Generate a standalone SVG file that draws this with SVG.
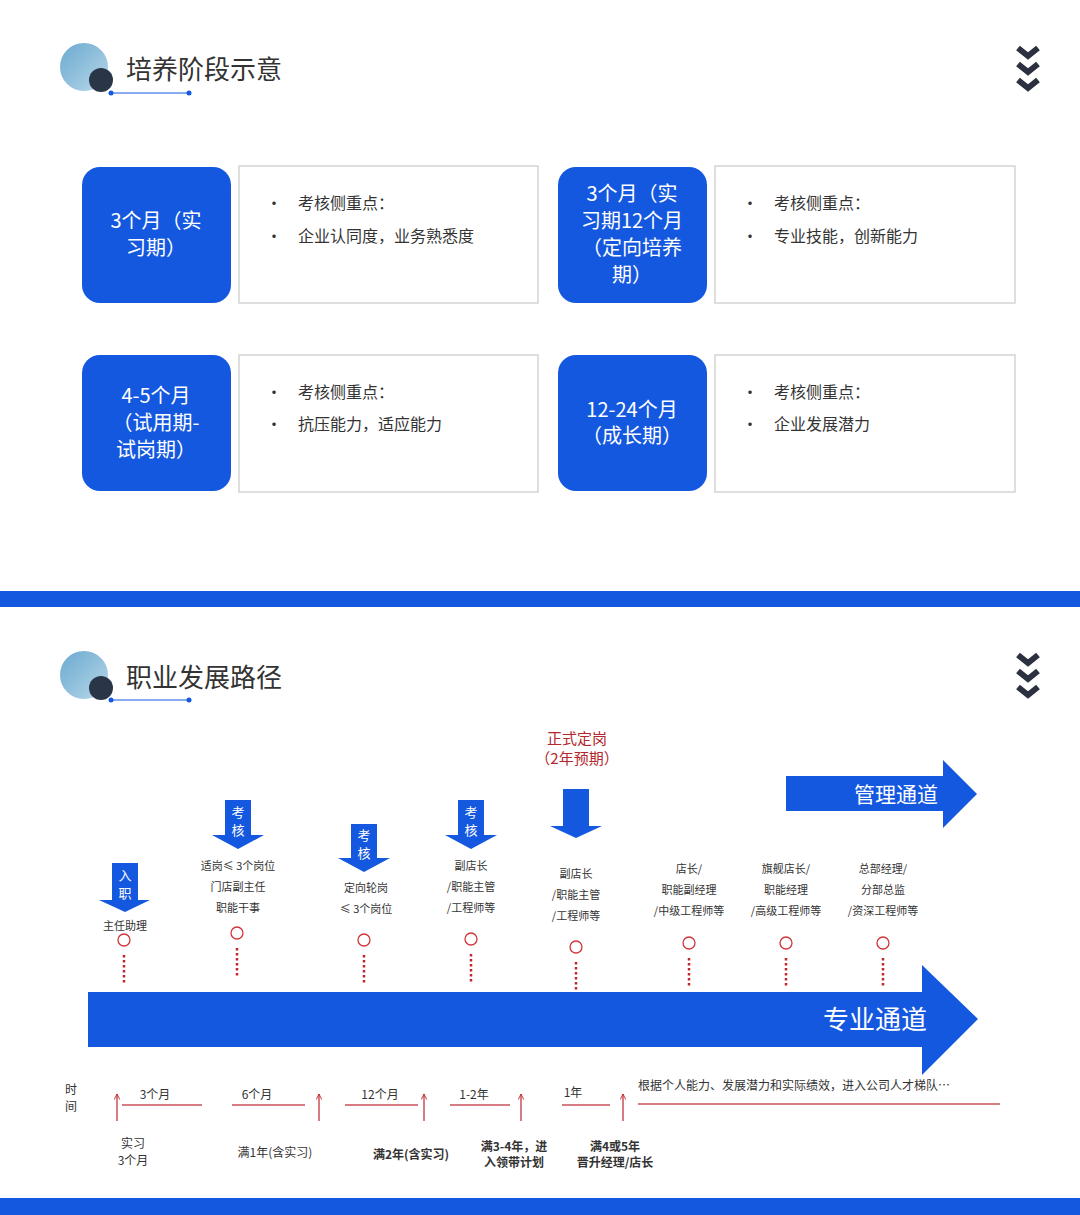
<svg xmlns="http://www.w3.org/2000/svg" width="1080" height="1215" viewBox="0 0 1080 1215">
<defs>
<style>
text{font-family:"Noto Sans CJK SC","Liberation Serif",serif}
.h{font-size:26px;fill:#333}
.bt{font-size:20px;fill:#fff;text-anchor:middle}
.ct{font-size:16px;fill:#333}
.bl{fill:#1558e0}
.wb{fill:#fff;stroke:#d4d4d4;stroke-width:1.5}
.s{font-size:11px;fill:#333;text-anchor:middle}
.w{font-size:13px;fill:#fff;text-anchor:middle}
.dot{stroke:#c0282d;stroke-width:2.5;stroke-dasharray:2.5 2.5}
.cir{fill:none;stroke:#d0353a;stroke-width:1.3}
.tl{stroke:#c85058;stroke-width:1.5}
.t{font-size:12px;fill:#333;text-anchor:middle}
</style>
<linearGradient id="g" x1="0" y1="0" x2="1" y2="1"><stop offset="0" stop-color="#6aa9cf"/><stop offset="1" stop-color="#b8d8ea"/></linearGradient>
<marker id="ua" viewBox="0 0 10 10" refX="9" refY="5" markerWidth="7" markerHeight="7" markerUnits="userSpaceOnUse" orient="auto"><path d="M1,1 L9,5 L1,9" fill="none" stroke="#c0282d" stroke-width="1.3"/></marker>
<g id="chev"><path d="M0,0 L10,8 L20,0 M0,16 L10,24 L20,16 M0,32 L10,40 L20,32" fill="none" stroke="#2b3140" stroke-width="6"/></g>
</defs>
<rect width="1080" height="1215" fill="#fff"/>
<g id="header1">
<circle cx="84" cy="67" r="24" fill="url(#g)"/><circle cx="101" cy="80" r="12" fill="#2b3548"/>
<line x1="111" y1="93" x2="189" y2="93" stroke="#1558e0"/><circle cx="111" cy="93" r="2.5" fill="#1558e0"/><circle cx="189" cy="93" r="2.5" fill="#1558e0"/>
<text x="126" y="79" class="h">培养阶段示意</text>
<use href="#chev" x="1018" y="48"/>
</g>
<g id="stage1"><rect x="82" y="167" width="149" height="136" rx="18" class="bl"/><text class="bt" x="156" y="228">3个月（实</text><text class="bt" x="156" y="255">习期）</text>
<rect x="239" y="166" width="299" height="137" class="wb"/><text class="ct" x="266" y="209">•　考核侧重点：</text><text class="ct" x="266" y="242">•　企业认同度，业务熟悉度</text></g>
<g id="stage2"><rect x="558" y="167" width="149" height="136" rx="18" class="bl"/><text class="bt" x="632" y="201">3个月（实</text><text class="bt" x="632" y="228">习期12个月</text><text class="bt" x="632" y="255">（定向培养</text><text class="bt" x="632" y="282">期）</text>
<rect x="715" y="166" width="300" height="137" class="wb"/><text class="ct" x="742" y="209">•　考核侧重点：</text><text class="ct" x="742" y="242">•　专业技能，创新能力</text></g>
<g id="stage3"><rect x="82" y="355" width="149" height="136" rx="18" class="bl"/><text class="bt" x="156" y="403">4-5个月</text><text class="bt" x="156" y="430">（试用期-</text><text class="bt" x="156" y="457">试岗期）</text>
<rect x="239" y="355" width="299" height="137" class="wb"/><text class="ct" x="266" y="398">•　考核侧重点：</text><text class="ct" x="266" y="430">•　抗压能力，适应能力</text></g>
<g id="stage4"><rect x="558" y="355" width="149" height="136" rx="18" class="bl"/><text class="bt" x="632" y="417">12-24个月</text><text class="bt" x="632" y="443">（成长期）</text>
<rect x="715" y="355" width="300" height="137" class="wb"/><text class="ct" x="742" y="398">•　考核侧重点：</text><text class="ct" x="742" y="430">•　企业发展潜力</text></g>
<rect x="0" y="591" width="1080" height="16" class="bl"/>
<rect x="0" y="1198" width="1080" height="17" class="bl"/>
<g id="header2">
<circle cx="84" cy="675" r="24" fill="url(#g)"/><circle cx="101" cy="688" r="12" fill="#2b3548"/>
<line x1="111" y1="700" x2="189" y2="700" stroke="#1558e0"/><circle cx="111" cy="700" r="2.5" fill="#1558e0"/><circle cx="189" cy="700" r="2.5" fill="#1558e0"/>
<text x="126" y="687" class="h">职业发展路径</text>
<use href="#chev" x="1018" y="655"/>
</g>
<g id="connectors">
<path d="M88,992 H922 V965 L978,1019 L922,1075 V1047 H88 Z" class="bl"/>
<text x="875" y="1029" font-size="26" fill="#fff" text-anchor="middle">专业通道</text>
<path d="M786,776 H943 V760 L977,794 L943,828 V811 H786 Z" class="bl"/>
<text x="896" y="802" font-size="21" fill="#fff" text-anchor="middle">管理通道</text>
<path d="M112,863 H138 V900 H150 L125,912 L99,900 H112 Z" class="bl"/>
<path d="M225,800 H251 V835 H264 L238,849 L212,835 H225 Z" class="bl"/>
<path d="M351,824 H377 V858 H390 L364,872 L338,858 H351 Z" class="bl"/>
<path d="M458,800 H484 V835 H497 L471,849 L445,835 H458 Z" class="bl"/>
<path d="M563,789 H589 V826 H602 L576,838 L550,826 H563 Z" class="bl"/>
<g class="dot"><line x1="124" y1="955" x2="124" y2="983"/><line x1="237" y1="948" x2="237" y2="976"/><line x1="364" y1="955" x2="364" y2="983"/><line x1="471" y1="954" x2="471" y2="983"/><line x1="576" y1="962" x2="576" y2="990"/><line x1="689" y1="958" x2="689" y2="986"/><line x1="786" y1="958" x2="786" y2="986"/><line x1="883" y1="958" x2="883" y2="986"/></g>
<g class="cir"><circle cx="124" cy="940" r="6"/><circle cx="237" cy="933" r="6"/><circle cx="364" cy="940" r="6"/><circle cx="471" cy="939" r="6"/><circle cx="576" cy="947" r="6"/><circle cx="689" cy="943" r="6"/><circle cx="786" cy="943" r="6"/><circle cx="883" cy="943" r="6"/></g>
<g class="tl"><line x1="122" y1="1105" x2="202" y2="1105"/><line x1="232" y1="1105" x2="305" y2="1105"/><line x1="345" y1="1105" x2="418" y2="1105"/><line x1="450" y1="1105" x2="510" y2="1105"/><line x1="562" y1="1105" x2="610" y2="1105"/><line x1="638" y1="1104" x2="1000" y2="1104"/>
<line x1="117" y1="1121" x2="117" y2="1094" marker-end="url(#ua)"/><line x1="319" y1="1121" x2="319" y2="1094" marker-end="url(#ua)"/><line x1="424" y1="1121" x2="424" y2="1094" marker-end="url(#ua)"/><line x1="521" y1="1121" x2="521" y2="1094" marker-end="url(#ua)"/><line x1="623" y1="1121" x2="623" y2="1094" marker-end="url(#ua)"/></g>
</g>
<g id="labels">
<text class="w" x="125" y="880">入</text><text class="w" x="125" y="898">职</text>
<text class="w" x="238" y="817">考</text><text class="w" x="238" y="835">核</text>
<text class="w" x="364" y="840">考</text><text class="w" x="364" y="858">核</text>
<text class="w" x="471" y="817">考</text><text class="w" x="471" y="835">核</text>
<text x="577" y="744" font-size="15" fill="#b3262b" text-anchor="middle">正式定岗</text>
<text x="577" y="764" font-size="15" fill="#b3262b" text-anchor="middle">（2年预期）</text>
<text class="s" x="125" y="930">主任助理</text>
<text class="s" x="238" y="870">适岗≤ 3个岗位</text><text class="s" x="238" y="891">门店副主任</text><text class="s" x="238" y="912">职能干事</text>
<text class="s" x="366" y="892">定向轮岗</text><text class="s" x="366" y="913">≤ 3个岗位</text>
<text class="s" x="471" y="870">副店长</text><text class="s" x="471" y="891">/职能主管</text><text class="s" x="471" y="912">/工程师等</text>
<text class="s" x="576" y="878">副店长</text><text class="s" x="576" y="899">/职能主管</text><text class="s" x="576" y="920">/工程师等</text>
<text class="s" x="689" y="873">店长/</text><text class="s" x="689" y="894">职能副经理</text><text class="s" x="689" y="915">/中级工程师等</text>
<text class="s" x="786" y="873">旗舰店长/</text><text class="s" x="786" y="894">职能经理</text><text class="s" x="786" y="915">/高级工程师等</text>
<text class="s" x="883" y="873">总部经理/</text><text class="s" x="883" y="894">分部总监</text><text class="s" x="883" y="915">/资深工程师等</text>
<text class="t" x="71" y="1094">时</text><text class="t" x="71" y="1111">间</text>
<text class="t" x="155" y="1099">3个月</text><text class="t" x="257" y="1099">6个月</text><text class="t" x="380" y="1099">12个月</text><text class="t" x="474" y="1099">1-2年</text><text class="t" x="573" y="1097">1年</text>
<text x="638" y="1090" font-size="12" fill="#333">根据个人能力、发展潜力和实际绩效，进入公司人才梯队…</text>
<text class="t" x="133" y="1148">实习</text><text class="t" x="133" y="1165">3个月</text>
<text class="t" x="275" y="1157">满1年(含实习)</text>
<text class="t" x="411" y="1159" font-weight="bold">满2年(含实习)</text>
<text class="t" x="514" y="1151" font-weight="bold">满3-4年，进</text><text class="t" x="514" y="1167" font-weight="bold">入领带计划</text>
<text class="t" x="615" y="1151" font-weight="bold">满4或5年</text><text class="t" x="615" y="1167" font-weight="bold">晋升经理/店长</text>
</g>
</svg>
